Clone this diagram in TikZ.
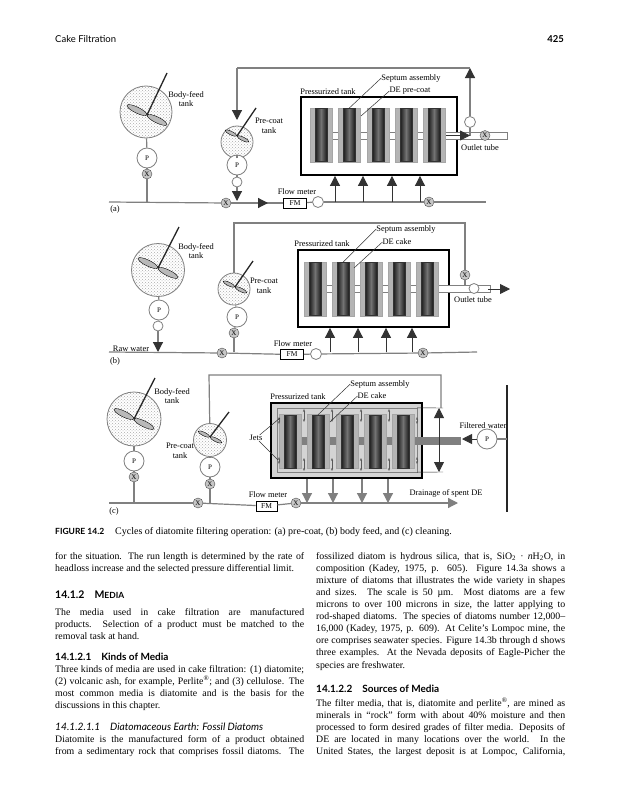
\documentclass[tikz,border=0pt]{standalone}
\usepackage{fontspec}
\setmainfont{Liberation Serif}
\newfontfamily\headfont{Lato}
\definecolor{pipegray}{HTML}{808080}
\definecolor{cakegray}{HTML}{B4B4B4}
\definecolor{washgray}{HTML}{D4D4D4}
\usetikzlibrary{calc, positioning, shapes.geometric, arrows.meta, patterns}
\newcommand{\jl}[1]{\makebox[249pt][s]{#1}}

\begin{document}
\begin{tikzpicture}[
  x=1pt, y=-1pt,
  lbl/.style={inner sep=0pt, align=center, font=\fontsize{8.4}{9.7}\selectfont},
  para/.style={anchor=north west, inner sep=0pt, text width=249pt, align=flush left,
               font=\fontsize{9.85}{12.1}\selectfont},
  headline/.style={anchor=base west, inner sep=0pt, font=\fontsize{10}{12}\headfont\bfseries},
  tank/.style={circle, draw=pipegray, thick, inner sep=0pt, pattern=crosshatch dots, pattern color=gray!65},
  shaft/.style={line width=1.3pt, black!85},
  paddle/.style={ellipse, draw=black, inner sep=0pt, fill=gray!55, minimum width=#1pt, minimum height=0.27*#1pt, rotate=-26},
  pump/.style={circle, draw=pipegray, thick, fill=white, minimum size=20pt, inner sep=0pt, font=\fontsize{7}{8}\selectfont},
  valve/.style={circle, draw=black!70, fill=gray!45, minimum size=10pt, inner sep=0pt, font=\fontsize{7}{8}\selectfont},
  gauge/.style={circle, draw=pipegray, thick, fill=white, minimum size=10pt, inner sep=0pt},
  fmbox/.style={draw=black, fill=white, thick, minimum width=23pt, minimum height=10pt, inner sep=0pt, font=\fontsize{7.5}{8}\selectfont},
  ptank/.style={draw=black, line width=1.8pt, inner sep=0pt},
  cake/.style={draw=gray!70, fill=cakegray, minimum width=22pt, minimum height=54pt, inner sep=0pt},
  core/.style={draw=black!80, left color=black!90, right color=black!90, middle color=black!55, minimum width=12pt, minimum height=53pt, inner sep=0pt},
  tube/.style={draw=pipegray, fill=white, minimum height=7pt, inner sep=0pt, anchor=west},
  pipe/.style={pipegray, line width=1.2pt},
  leader/.style={black!80, line width=0.5pt},
  feed/.style={black!80, line width=0.8pt, -{Triangle[width=10pt,length=10pt]}},
  backflow/.style={pipe, -{Triangle[width=10pt,length=10pt,color=black!80,fill=black!80]}},
  drain/.style={pipegray, line width=1.2pt, -{Triangle[width=10pt,length=10pt]}},
  jet/.style={gray!70!black, line width=0.6pt, {Stealth[length=3pt]}-{Stealth[length=3pt]}},
]
\useasboundingbox (0,0) rectangle (617,800);
\fill[white] (0,0) rectangle (617,800);

% running head
\node[headline, font=\fontsize{9.5}{12}\headfont] (runhead) at (55,43) {Cake Filtration};
\node[headline, anchor=base east, font=\fontsize{9.5}{12}\headfont\bfseries] (pageno) at (564,43) {425};

% mixing tanks, all three panels
\foreach \tk/\tx/\ty/\tr/\hx/\hy/\sx/\sy/\pl in {
  bodyA/146/112/26/147/115/167/73/22, preA/237/142/16/237/136/256/108/13,
  bodyB/158/270/26.5/158/268/179/227/22, preB/234/289/16/235/287/253/261/13,
  bodyC/134/419/27/134/419/155/378/22, preC/210/440/16.5/210/437/229/412/13}{
  \node[tank, minimum size=2*\tr pt] (\tk) at (\tx,\ty) {};
  \coordinate (\tk hub) at (\hx,\hy);
  \coordinate (\tk top) at (\sx,\sy);
  \node[paddle=\pl, anchor=east] (\tk padl) at (\tk hub) {};
  \node[paddle=\pl, anchor=west] (\tk padr) at (\tk hub) {};
  \draw[shaft] (\tk hub) -- (\tk top);
}

% (a) pre-coat
\coordinate (mainAl) at (109,202);
\coordinate (mainAr) at (486,202);
\coordinate (backAr) at (470,68);
\coordinate (backAl) at (237,68);
\coordinate (preAin) at (237,120);
\coordinate (preAdrop) at (237,201);
\coordinate (bodyAjoin) at (147,202);
\coordinate (deAim) at (361,116);
\node[pump] (pumpbodyA) at (147,158) {P};
\node[valve] (vbodyA) at (147,174) {X};
\node[pump] (pumppreA) at (237,165) {P};
\node[gauge] (gpreA) at (237,182) {};
\node[valve] (vinA) at (226,203) {X};
\node[fmbox] (fmA) at (295,203) {FM};
\node[gauge, minimum height=9pt, minimum width=11pt] (gmainA) at (318,202) {};
\node[valve] (voutA) at (429,202) {X};
\node[ptank, minimum width=156pt, minimum height=78pt] (tkA) at (379,136) {};
\node[tube, minimum width=177pt] (tubeA) at (330,135.5) {};
\foreach \sx in {321,349,378,406,434}{
  \node[cake] (cakeA\sx) at (\sx,135) {};
  \node[core] (coreA\sx) at (\sx,135) {};
}
\node[valve] (vtubeA) at (485,135.5) {X};
\coordinate (tubeAin) at (446,135.5);
\coordinate (tubeAup) at (470,135.5);
\node[gauge, minimum height=11pt, minimum width=9pt] (gbackA) at (470,122) {};
\draw[pipe] (bodyA) -- (pumpbodyA);
\draw[pipe] (pumpbodyA) -- (vbodyA);
\draw[pipe] (vbodyA) -- (bodyAjoin);
\draw[pipe] (preA) -- (pumppreA);
\draw[pipe] (pumppreA) -- (gpreA);
\draw[backflow] (gpreA) -- (preAdrop);
\draw[pipe] (mainAl) -- (vinA);
\draw[pipe] (vinA) -- (fmA);
\draw[backflow] (vinA) -- ($(vinA)+(42,0)$);
\draw[pipe] (fmA) -- (gmainA);
\draw[pipe] (gmainA) -- (voutA);
\draw[pipe] (voutA) -- (mainAr);
\draw[pipe] (tubeAup) -- (gbackA);
\draw[backflow] (gbackA) -- (backAr);
\draw[pipe] (backAr) -- (backAl);
\draw[backflow] (backAl) -- (preAin);
\draw[feed] (tubeAin) -- (tubeAup);
\foreach \bx in {335,363,392,420}{
  \coordinate (brA\bx) at (\bx,202);
  \draw[feed] (brA\bx) -- (brA\bx |- tkA.south);
}
\node[lbl] (lbodyA) at (186,99) {Body-feed\\tank};
\node[lbl] (lpreA) at (269,126) {Pre-coat\\tank};
\node[lbl] (lfmA) at (297,192) {Flow meter};
\node[lbl] (lptA) at (328,92) {Pressurized tank};
\node[lbl] (lsaA) at (411,78) {Septum assembly};
\node[lbl] (ldeA) at (410,91) {DE pre-coat};
\node[lbl] (loutA) at (480,148) {Outlet tube};
\node[lbl] (tagA) at (115,209) {(a)};
\draw[leader] (lsaA.west) -- (coreA349.north);
\draw[leader] (ldeA.west) -- (deAim);

% (b) body feed
\coordinate (mainBl) at (109,352);
\coordinate (mainBr) at (477,352);
\coordinate (backBl) at (234,223);
\coordinate (backBr) at (465,223);
\coordinate (bodyBdrop) at (158,352);
\coordinate (preBjoin) at (234,352);
\coordinate (deBim) at (354,268);
\node[pump] (pumpbodyB) at (159,310) {P};
\node[gauge] (gbodyB) at (158,326) {};
\node[pump] (pumppreB) at (237,317) {P};
\node[valve] (vpreB) at (234,333) {X};
\node[valve] (vinB) at (222,353) {X};
\node[fmbox] (fmB) at (292,354.5) {FM};
\node[gauge, minimum height=9pt, minimum width=11pt] (gmainB) at (316,354) {};
\node[valve] (voutB) at (423,353) {X};
\node[ptank, minimum width=151pt, minimum height=77pt] (tkB) at (373.5,288.5) {};
\node[tube, minimum width=170pt] (tubeB) at (320,289) {};
\foreach \sx in {315,343,371,399,427}{
  \node[cake] (cakeB\sx) at (\sx,289) {};
  \node[core] (coreB\sx) at (\sx,289) {};
}
\node[valve] (vbackB) at (465,275) {X};
\node[gauge, minimum height=10pt, minimum width=10pt] (gtubeB) at (474,288.5) {};
\coordinate (tubeBup) at (465,285.5);
\coordinate (tubeBend) at (488,289);
\coordinate (tubeBtip) at (510,289);
\draw[pipe] (bodyB) -- (pumpbodyB);
\draw[pipe] (pumpbodyB) -- (gbodyB);
\draw[backflow] (gbodyB) -- (bodyBdrop);
\draw[pipe] (preB) -- (pumppreB);
\draw[pipe] (pumppreB) -- (vpreB);
\draw[pipe] (vpreB) -- (preBjoin);
\draw[pipe] (mainBl) -- (vinB);
\draw[pipe] (vinB) -- (fmB);
\draw[pipe] (fmB) -- (gmainB);
\draw[pipe] (gmainB) -- (voutB);
\draw[pipe] (voutB) -- (mainBr);
\draw[pipe] (preB) -- (backBl) -- (backBr) -- (vbackB);
\draw[pipe] (vbackB) -- (tubeBup);
\draw[feed] (tubeBend) -- (tubeBtip);
\foreach \bx in {330,358,386,412}{
  \coordinate (brB\bx) at (\bx,352);
  \draw[feed] (brB\bx) -- (brB\bx |- tkB.south);
}
\node[lbl] (lbodyB) at (196,251) {Body-feed\\tank};
\node[lbl] (lpreB) at (264,285.5) {Pre-coat\\tank};
\node[lbl] (lfmB) at (293,344) {Flow meter};
\node[lbl] (lptB) at (322,244) {Pressurized tank};
\node[lbl] (lsaB) at (406,229) {Septum assembly};
\node[lbl] (ldeB) at (397,242) {DE cake};
\node[lbl] (loutB) at (473,300) {Outlet tube};
\node[lbl] (rawB) at (131,349) {Raw water};
\node[lbl] (tagB) at (115,361) {(b)};
\draw[leader] (lsaB.west) -- (coreB343.north);
\draw[leader] (ldeB.west) -- (deBim);

% (c) cleaning
\coordinate (mainCl) at (109,503);
\coordinate (mainCr) at (458,503);
\coordinate (backCl) at (209,375);
\coordinate (backCr) at (441,375);
\coordinate (backCin) at (441,408);
\coordinate (bodyCjoin) at (134,503);
\coordinate (preCjoin) at (210,503);
\coordinate (washTop) at (439,408);
\coordinate (washBot) at (439,472);
\coordinate (washMid) at (439,440);
\coordinate (barEnd) at (507,439);
\coordinate (rodTop) at (507,385);
\coordinate (rodBot) at (507,512);
\coordinate (deCim) at (330,422);
\node[pump] (pumpbodyC) at (134,461) {P};
\node[valve] (vbodyC) at (134,477) {X};
\node[pump] (pumppreC) at (210,467) {P};
\node[valve] (vpreC) at (210,484) {X};
\node[valve] (vinC) at (198,503) {X};
\node[fmbox, minimum width=21pt] (fmC) at (266.5,506) {FM};
\node[valve] (voutC) at (296,503) {X};
\node[ptank, fill=washgray, minimum width=151pt, minimum height=75pt] (tkC) at (346.5,440.5) {};
\node[draw=pipegray, minimum width=140pt, minimum height=64pt, inner sep=0pt] (jetC) at (347,440) {};
\node[tube, fill=pipegray, minimum width=170pt] (tubeC) at (290,440.5) {};
\foreach \sx in {290,318,347,375,403}{
  \node[cake] (cakeC\sx) at (\sx,441.5) {};
  \node[core] (coreC\sx) at (\sx,441.5) {};
}
\foreach \jx in {304,332,361,389}{
  \coordinate (jetT\jx) at (\jx,409);
  \draw[jet] (jetT\jx) -- ++(0,13);
  \coordinate (jetB\jx) at (\jx,471);
  \draw[jet] (jetB\jx) -- ++(0,-13);
}
\foreach \jx in {279,417}{
  \coordinate (jetS\jx) at (\jx,417);
  \draw[jet] (jetS\jx) -- ++(0,7);
  \coordinate (jetD\jx) at (\jx,464);
  \draw[jet] (jetD\jx) -- ++(0,-7);
}
\node[pump] (pumpwash) at (487,439) {P};
\coordinate (arrowC) at (462,439);
\draw[pipe] (bodyC) -- (pumpbodyC);
\draw[pipe] (pumpbodyC) -- (vbodyC);
\draw[pipe] (vbodyC) -- (bodyCjoin);
\draw[pipe] (preC) -- (pumppreC);
\draw[pipe] (pumppreC) -- (vpreC);
\draw[pipe] (vpreC) -- (preCjoin);
\draw[pipe] (mainCl) -- (vinC);
\draw[pipe] (vinC) -- (fmC);
\draw[pipe] (fmC) -- (voutC);
\draw[drain] (voutC) -- (mainCr);
\draw[pipe] (preC) -- (backCl) -- (backCr) -- (backCin);
\draw[black!85] (jetC.north east) -- ($(washTop)+(4,0)$);
\draw[black!85] (jetC.south east) -- ($(washBot)+(4,0)$);
\draw[feed] (washMid) -- (washTop);
\draw[feed] (washMid) -- (washBot);
\draw[line width=1.3pt, black!85] (rodTop) -- (rodBot);
\draw[pipe] (barEnd) -- (pumpwash);
\draw[feed] (pumpwash) -- (arrowC);
\foreach \bx in {307,333,362,388}{
  \coordinate (brC\bx) at (\bx,503);
  \draw[drain] (brC\bx |- tkC.south) -- (brC\bx);
}
\node[lbl] (lbodyC) at (172,396) {Body-feed\\tank};
\node[lbl] (lpreC) at (180,451) {Pre-coat\\tank};
\node[lbl] (lfmC) at (268,495) {Flow meter};
\node[lbl] (lptC) at (298,397) {Pressurized tank};
\node[lbl] (lsaC) at (380,384) {Septum assembly};
\node[lbl] (ldeC) at (372,396) {DE cake};
\node[lbl] (ljets) at (256,438) {Jets};
\node[lbl] (lwash) at (483,426) {Filtered water};
\node[lbl] (ldrain) at (446,493) {Drainage of spent DE};
\node[lbl] (tagC) at (114,511) {(c)};
\draw[leader] (lsaC.west) -- (coreC318.north);
\draw[leader] (ldeC.west) -- (deCim);
\coordinate (jetAimT) at (280,418);
\coordinate (jetAimB) at (278,460);
\draw[leader] (ljets) -- (jetAimT);
\draw[leader] (ljets) -- (jetAimB);

% caption
\node[headline, font=\fontsize{8.5}{10}\headfont\bfseries] (figno) at (55,534) {FIGURE 14.2};
\node[anchor=base west, inner sep=0pt, font=\fontsize{10}{10}\selectfont] (figcap) at (115,534)
  {Cycles of diatomite filtering operation: (a) pre-coat, (b) body feed, and (c) cleaning.};

% left column
\node[para] (pA) at (55,552) {\jl{for the situation. The run length is determined by the rate of}\\
  headloss increase and the selected pressure differential limit.};
\node[headline, font=\fontsize{10.5}{12}\headfont\bfseries] (hA) at (55,598) {14.1.2\hspace{10pt}M{\fontsize{8.5}{12}\selectfont EDIA}};
\node[para] (pB) at (55,608) {\jl{The media used in cake filtration are manufactured}\\
  \jl{products. Selection of a product must be matched to the}\\
  removal task at hand.};
\node[headline] (hB) at (55,660) {14.1.2.1\hspace{10pt}Kinds of Media};
\node[para] (pC) at (55,665) {\jl{Three kinds of media are used in cake filtration: (1) diatomite;}\\
  \jl{(2) volcanic ash, for example, Perlite\textsuperscript{®}; and (3) cellulose. The}\\
  \jl{most common media is diatomite and is the basis for the}\\
  discussions in this chapter.};
\node[headline, font=\fontsize{10.2}{12}\headfont\itshape] (hC) at (55,730) {14.1.2.1.1\hspace{10pt}Diatomaceous Earth: Fossil Diatoms};
\node[para] (pD) at (55,735) {\jl{Diatomite is the manufactured form of a product obtained}\\
  \jl{from a sedimentary rock that comprises fossil diatoms. The}};

% right column
\node[para] (pE) at (316,552) {\jl{fossilized diatom is hydrous silica, that is, SiO\textsubscript{2} · \textit{n}H\textsubscript{2}O, in}\\
  \jl{composition (Kadey, 1975, p. 605). Figure 14.3a shows a}\\
  \jl{mixture of diatoms that illustrates the wide variety in shapes}\\
  \jl{and sizes. The scale is 50 µm. Most diatoms are a few}\\
  \jl{microns to over 100 microns in size, the latter applying to}\\
  \jl{rod-shaped diatoms. The species of diatoms number 12,000–}\\
  \jl{16,000 (Kadey, 1975, p. 609). At Celite's Lompoc mine, the}\\
  \jl{ore comprises seawater species. Figure 14.3b through d shows}\\
  \jl{three examples. At the Nevada deposits of Eagle-Picher the}\\
  species are freshwater.};
\node[headline] (hD) at (316,692) {14.1.2.2\hspace{10pt}Sources of Media};
\node[para] (pF) at (316,698) {\jl{The filter media, that is, diatomite and perlite\textsuperscript{®}, are mined as}\\
  \jl{minerals in “rock” form with about 40\% moisture and then}\\
  \jl{processed to form desired grades of filter media. Deposits of}\\
  \jl{DE are located in many locations over the world. In the}\\
  \jl{United States, the largest deposit is at Lompoc, California,}};
\end{tikzpicture}
\end{document}
